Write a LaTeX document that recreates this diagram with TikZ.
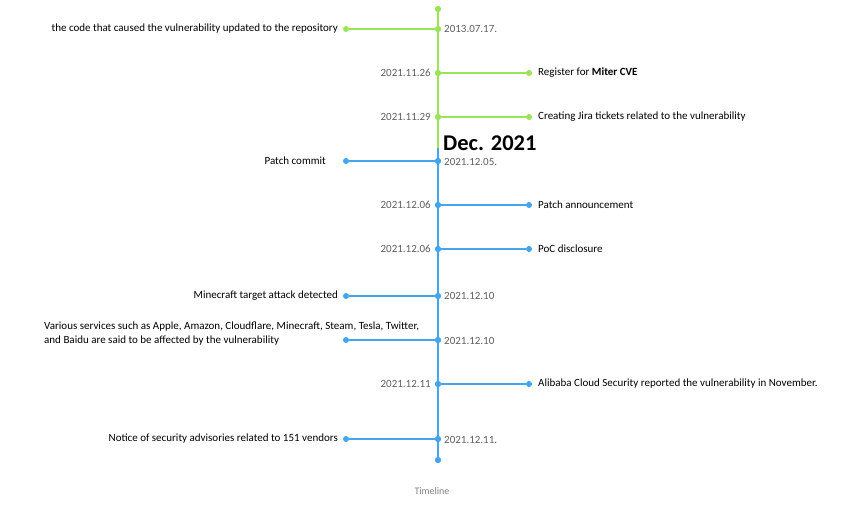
\documentclass[tikz,border=0pt]{standalone}
\usepackage{fontspec}
\setmainfont{Carlito}
\definecolor{tlgreen}{RGB}{155,228,88}
\definecolor{tlblue}{RGB}{66,165,237}
\definecolor{dategray}{RGB}{95,95,95}
\definecolor{capgray}{RGB}{130,130,130}
\begin{document}
\begin{tikzpicture}[x=1pt,y=-1pt,
  gdot/.style={circle,fill=tlgreen,inner sep=0pt,minimum size=6pt},
  bdot/.style={circle,fill=tlblue,inner sep=0pt,minimum size=6pt},
  gline/.style={draw=tlgreen,line width=1.3pt},
  bline/.style={draw=tlblue,line width=1.3pt},
  axisg/.style={draw=tlgreen,line width=1.8pt},
  axisb/.style={draw=tlblue,line width=1.8pt},
  datel/.style={font=\fontsize{11}{13}\selectfont,text=dategray,inner sep=0pt,anchor=east},
  dater/.style={font=\fontsize{11}{13}\selectfont,text=dategray,inner sep=0pt,anchor=west},
  evl/.style={font=\fontsize{11}{13}\selectfont,inner sep=0pt,anchor=east},
  evr/.style={font=\fontsize{11}{13}\selectfont,inner sep=0pt,anchor=west},
]
\useasboundingbox (0,0) rectangle (866,504);
% axis points
\coordinate (split) at (438,148);
\node[gdot] (top) at (438,9) {};
\node[gdot] (a1) at (438,29) {};
\node[gdot] (a2) at (438,73) {};
\node[gdot] (a3) at (438,117) {};
\node[bdot] (a4) at (438,161) {};
\node[bdot] (a5) at (438,205) {};
\node[bdot] (a6) at (438,249) {};
\node[bdot] (a7) at (438,296) {};
\node[bdot] (a8) at (438,340) {};
\node[bdot] (a9) at (438,384) {};
\node[bdot] (a10) at (438,439) {};
\node[bdot] (bot) at (438,460) {};
% side dots
\node[gdot] (s1) at (346,29) {};
\node[gdot] (s2) at (529,73) {};
\node[gdot] (s3) at (529,117) {};
\node[bdot] (s4) at (346,161) {};
\node[bdot] (s5) at (529,205) {};
\node[bdot] (s6) at (529,249) {};
\node[bdot] (s7) at (346,296) {};
\node[bdot] (s8) at (346,340) {};
\node[bdot] (s9) at (529,384) {};
\node[bdot] (s10) at (346,439) {};
% axis
\draw[axisg] (top.center) -- (split);
\draw[axisb] (split) -- (bot.center);
% branches
\draw[gline] (s1) -- (a1);
\draw[gline] (a2) -- (s2);
\draw[gline] (a3) -- (s3);
\draw[bline] (s4) -- (a4);
\draw[bline] (a5) -- (s5);
\draw[bline] (a6) -- (s6);
\draw[bline] (s7) -- (a7);
\draw[bline] (s8) -- (a8);
\draw[bline] (a9) -- (s9);
\draw[bline] (s10) -- (a10);
% redraw dots on top
\foreach \n in {top,a1,a2,a3}{\fill[tlgreen] (\n.center) circle (3pt);}
\foreach \n in {a4,a5,a6,a7,a8,a9,a10,bot}{\fill[tlblue] (\n.center) circle (3pt);}
% dates
\node[dater] (d1) at (444,29) {2013.07.17.};
\node[datel] (d2) at (431,73) {2021.11.26};
\node[datel] (d3) at (431,117) {2021.11.29};
\node[dater] (d4) at (444,161.5) {2021.12.05.};
\node[datel] (d5) at (431,205) {2021.12.06};
\node[datel] (d6) at (431,249) {2021.12.06};
\node[dater] (d7) at (444,296) {2021.12.10};
\node[dater] (d8) at (444,340.5) {2021.12.10};
\node[datel] (d9) at (431,384) {2021.12.11};
\node[dater] (d10) at (444,439.5) {2021.12.11.};
% events
\node[evl] (e1) at (338,29) {the code that caused the vulnerability updated to the repository};
\node[evr] (e2) at (538,73) {Register for \textbf{Miter CVE}};
\node[evr] (e3) at (538,117) {Creating Jira tickets related to the vulnerability};
\node[evl] (e4) at (326,161) {Patch commit};
\node[evr] (e5) at (538,205) {Patch announcement};
\node[evr] (e6) at (538,249) {PoC disclosure};
\node[evl] (e7) at (338,296) {Minecraft target attack detected};
\node[font=\fontsize{11}{13.5}\selectfont,inner sep=0pt,anchor=west,align=left] (e8) at (44,333.5) {Various services such as Apple, Amazon, Cloudflare, Minecraft, Steam, Tesla, Twitter,\\and Baidu are said to be affected by the vulnerability};
\node[evr] (e9) at (538,384) {Alibaba Cloud Security reported the vulnerability in November.};
\node[evl] (e10) at (338,439) {Notice of security advisories related to 151 vendors};
% heading
\node[font=\fontsize{22.5}{26}\bfseries,anchor=base west,inner sep=0pt] (dec) at (443,150) {Dec. 2021};
\node[font=\fontsize{10}{12}\selectfont,text=capgray,inner sep=0pt] (cap) at (432,491) {Timeline};
\end{tikzpicture}
\end{document}
